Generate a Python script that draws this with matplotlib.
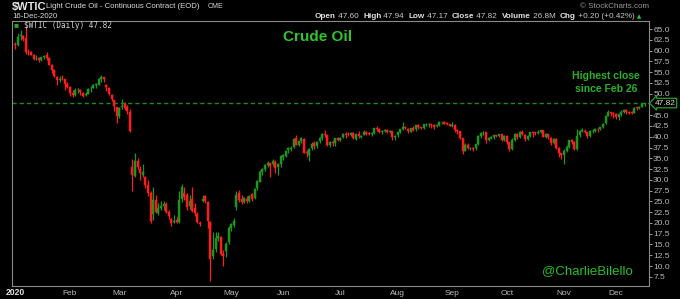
import matplotlib
matplotlib.use("Agg")
import matplotlib.pyplot as plt
import numpy as np

# ---------------- data (daily OHLC, $WTIC 2020) ----------------
opens = [
    # Jan
    61.6, 61.2, 63.7, 63.3, 62.8, 59.7, 59.6, 59.0, 58.2, 58.2, 57.8, 58.6, 58.9, 58.3, 56.7, 55.5, 53.8, 53.1, 53.5, 53.3, 52.2,
    # Feb
    51.6, 50.1, 49.7, 50.8, 50.9, 50.2, 49.6, 50.0, 51.2, 51.4, 52.1, 52.1, 53.3, 53.8, 52.1, 51.4, 49.8, 48.5, 46.9,
    # Mar
    44.8, 47.0, 47.6, 46.8, 45.8, 32.9, 31.0, 34.3, 32.5, 31.2, 30.6, 28.8, 27.0, 22.0, 25.4, 22.3, 23.5, 24.0, 24.5, 22.5, 21.0, 20.2,
    # Apr
    20.6, 20.3, 25.6, 27.0, 26.4, 24.0, 25.5, 23.4, 22.0, 20.0, 25.0, 26.3, 24.8, 20.2, 12.4, 14.0, 16.4, 16.8, 12.8, 13.5, 15.5,
    # May
    18.9, 19.6, 23.6, 27.0, 25.6, 24.9, 25.6, 25.1, 26.8, 25.8, 28.0, 29.6, 31.9, 32.5, 33.5, 33.8, 33.6, 34.2, 32.9, 33.6,
    # Jun
    35.3, 35.6, 36.9, 37.2, 37.6, 39.8, 38.2, 38.9, 39.4, 36.3, 35.7, 37.3, 38.5, 37.8, 38.9, 39.7, 40.6, 40.3, 38.0, 38.7, 38.5, 39.7,
    # Jul
    39.3, 39.9, 40.5, 40.6, 40.5, 40.9, 39.5, 40.6, 39.9, 40.4, 41.2, 40.8, 40.6, 40.8, 42.0, 41.9, 41.1, 41.3, 41.5, 41.0, 41.3, 39.9,
    # Aug
    40.3, 41.0, 41.8, 42.2, 41.9, 41.2, 42.0, 41.7, 42.7, 42.2, 42.1, 42.9, 42.9, 42.8, 42.8, 42.4, 42.7, 43.4, 43.4, 43.0, 42.9,
    # Sep
    42.6, 42.8, 41.5, 41.3, 39.6, 36.8, 38.1, 37.3, 37.3, 37.3, 38.3, 40.2, 41.0, 41.0, 39.3, 39.8, 39.9, 40.3, 40.2, 40.6, 39.3,
    # Oct
    40.2, 38.7, 37.1, 39.3, 40.7, 40.0, 41.2, 40.5, 39.4, 40.2, 41.0, 40.9, 40.9, 41.0, 41.5, 40.0, 40.6, 39.8, 38.6, 39.5, 37.4, 36.2,
    # Nov
    35.8, 36.8, 37.7, 39.2, 38.8, 37.2, 40.3, 41.4, 41.4, 41.1, 40.2, 41.3, 41.4, 41.8, 41.7, 42.2, 43.1, 44.9, 45.7, 45.5,
    # Dec
    45.3, 44.5, 45.3, 45.7, 46.2, 45.7, 45.6, 45.5, 46.8, 46.6, 47.0, 47.60,
]
highs = [
    62.0, 64.1, 64.7, 63.5, 65.65, 60.3, 59.8, 59.3, 58.9, 58.4, 58.6, 59.0, 59.7, 58.4, 56.9, 55.8, 54.0, 54.0, 54.4, 53.4, 52.6,
    51.7, 50.8, 51.4, 51.3, 51.0, 50.5, 50.3, 51.3, 51.7, 52.2, 52.4, 53.6, 54.3, 53.9, 52.3, 51.6, 50.0, 48.6, 47.0,
    47.0, 48.7, 48.0, 47.3, 46.4, 34.9, 36.2, 35.0, 33.3, 33.6, 31.0, 29.9, 27.3, 28.3, 26.6, 24.7, 25.0, 25.2, 24.8, 22.9, 21.2, 21.8,
    21.4, 27.4, 29.1, 28.4, 27.0, 26.4, 28.4, 24.7, 22.5, 20.4, 26.5, 26.5, 25.0, 20.5, 18.0, 17.9, 17.8, 17.0, 13.7, 15.6, 19.3,
    20.0, 21.2, 27.4, 27.6, 26.4, 26.1, 26.3, 26.6, 27.0, 28.1, 29.9, 32.2, 32.8, 33.6, 34.3, 34.0, 34.8, 34.5, 34.0, 35.7,
    36.0, 37.0, 37.7, 37.9, 39.6, 40.4, 39.1, 40.0, 39.7, 37.0, 37.4, 38.7, 38.9, 39.0, 40.0, 40.9, 41.6, 40.4, 38.9, 39.3, 39.7, 40.0,
    40.0, 40.8, 41.0, 41.1, 41.2, 41.0, 40.7, 41.3, 40.5, 41.5, 41.3, 41.0, 41.0, 42.1, 42.5, 42.0, 41.6, 41.9, 41.8, 41.6, 41.3, 40.5,
    41.2, 41.8, 43.5, 42.4, 42.0, 42.1, 42.4, 42.8, 42.9, 42.3, 42.9, 43.1, 43.2, 42.9, 42.9, 42.9, 43.6, 43.5, 43.6, 43.4, 43.0,
    43.4, 42.9, 41.8, 41.4, 39.7, 38.6, 38.5, 37.7, 37.7, 38.4, 40.3, 41.2, 41.4, 41.1, 39.9, 40.2, 40.4, 40.4, 40.7, 40.6, 40.4,
    40.3, 38.8, 39.6, 40.9, 40.8, 41.4, 41.5, 40.6, 40.4, 41.2, 41.1, 41.1, 41.5, 41.6, 41.6, 40.8, 40.7, 39.9, 39.7, 39.6, 37.6, 36.3,
    37.1, 38.0, 39.3, 39.5, 38.9, 41.9, 41.5, 42.0, 41.8, 41.2, 41.5, 41.8, 42.0, 42.0, 42.3, 43.3, 45.0, 46.2, 45.8, 45.7,
    45.6, 45.4, 46.2, 46.5, 46.5, 45.9, 46.0, 46.9, 47.0, 47.2, 47.7, 47.94,
]
lows = [
    60.4, 61.1, 62.5, 62.3, 59.2, 58.9, 58.9, 57.9, 57.8, 57.4, 57.6, 58.1, 57.7, 56.6, 54.8, 53.9, 52.1, 52.6, 53.1, 50.9, 51.3,
    49.4, 49.3, 49.4, 50.1, 49.8, 49.3, 49.4, 49.9, 50.4, 51.2, 51.4, 52.0, 52.8, 52.7, 50.6, 49.7, 48.4, 46.0, 43.3,
    44.4, 46.5, 46.2, 45.3, 41.1, 27.3, 30.6, 32.5, 30.0, 30.7, 28.0, 26.2, 20.1, 20.7, 22.2, 21.9, 22.9, 23.0, 22.4, 21.0, 19.3, 19.9,
    19.9, 20.1, 24.9, 25.3, 22.9, 23.3, 22.6, 21.6, 19.9, 19.2, 24.8, 24.7, 18.9, 6.5, 11.6, 13.2, 15.7, 12.5, 9.9, 12.2, 15.2,
    18.2, 19.1, 23.0, 24.8, 24.4, 24.7, 24.6, 24.9, 25.0, 25.5, 27.6, 29.5, 31.2, 32.0, 32.9, 30.7, 33.1, 31.6, 31.1, 32.9,
    34.5, 35.4, 36.2, 36.6, 37.3, 38.1, 37.9, 38.6, 36.2, 35.3, 34.4, 37.0, 37.2, 37.5, 38.6, 39.2, 39.9, 37.9, 37.6, 37.9, 37.9, 39.0,
    38.9, 39.6, 39.8, 40.1, 40.2, 39.4, 39.3, 39.8, 39.8, 40.3, 40.3, 40.3, 40.2, 40.7, 41.3, 40.9, 40.7, 41.1, 40.9, 40.9, 39.2, 39.3,
    40.0, 40.8, 41.6, 41.7, 40.8, 41.1, 41.4, 41.4, 41.9, 41.7, 41.8, 42.5, 42.3, 42.1, 41.9, 42.2, 42.6, 43.0, 42.9, 42.8, 42.4,
    42.2, 41.1, 40.6, 39.4, 36.1, 36.6, 37.1, 36.9, 36.8, 36.9, 38.1, 39.8, 40.5, 38.6, 39.0, 39.4, 39.4, 39.9, 40.0, 38.9, 39.0,
    38.4, 36.6, 36.9, 39.0, 39.5, 39.8, 40.4, 39.1, 39.3, 40.0, 40.0, 40.5, 40.6, 40.9, 39.9, 39.6, 39.5, 38.0, 38.3, 37.1, 35.2, 34.9,
    33.6, 36.5, 37.4, 38.3, 36.9, 37.0, 39.9, 41.1, 40.9, 39.8, 39.9, 40.9, 41.2, 41.2, 41.5, 42.1, 43.0, 44.8, 44.9, 44.4,
    44.2, 43.9, 44.8, 45.5, 45.3, 45.2, 45.3, 45.4, 46.2, 46.5, 46.9, 47.17,
]
closes = [
    61.18, 63.05, 63.27, 62.70, 59.61, 59.56, 59.04, 58.08, 58.23, 57.81, 58.52, 58.54, 58.34, 56.74, 55.59, 54.19, 53.14, 53.48, 53.33, 52.14, 51.56,
    50.11, 49.61, 50.75, 50.95, 50.32, 49.57, 49.94, 51.17, 51.42, 52.05, 52.05, 53.29, 53.78, 53.38, 51.43, 49.90, 48.73, 47.09, 44.76,
    46.75, 47.18, 46.78, 45.90, 41.28, 31.13, 34.36, 32.98, 31.50, 31.73, 28.70, 26.95, 20.37, 25.22, 22.43, 23.36, 24.01, 24.49, 22.60, 21.51, 20.09, 20.48,
    20.31, 25.32, 28.34, 26.08, 23.63, 25.09, 22.76, 22.41, 20.11, 19.87, 25.60, 25.00, 20.40, 11.57, 13.78, 16.50, 16.94, 12.78, 12.34, 15.06, 18.84,
    19.78, 20.39, 26.60, 25.30, 24.80, 25.80, 25.10, 26.30, 25.60, 27.90, 29.70, 31.80, 32.60, 33.50, 33.90, 33.30, 34.40, 32.80, 33.70, 35.50,
    35.70, 36.81, 37.29, 37.41, 39.55, 38.19, 38.94, 39.60, 36.34, 36.26, 37.12, 38.38, 37.96, 38.84, 39.75, 40.73, 40.37, 38.01, 38.72, 38.49, 39.70, 39.27,
    39.82, 40.65, 40.63, 40.62, 40.90, 39.62, 40.55, 40.10, 40.29, 41.20, 40.75, 40.59, 40.81, 41.96, 41.90, 41.07, 41.29, 41.60, 41.04, 41.27, 39.92, 40.27,
    41.01, 41.70, 42.19, 41.95, 41.22, 41.94, 41.61, 42.67, 42.24, 42.01, 42.89, 42.89, 42.93, 42.82, 42.34, 42.62, 43.35, 43.39, 43.04, 42.97, 42.61,
    42.76, 41.51, 41.37, 39.77, 36.76, 38.05, 37.30, 37.33, 37.26, 38.28, 40.16, 40.97, 41.11, 39.31, 39.80, 39.93, 40.31, 40.25, 40.60, 39.29, 40.22,
    38.72, 37.05, 39.22, 40.67, 39.95, 41.19, 40.60, 39.43, 40.20, 41.04, 40.96, 40.88, 41.06, 41.46, 40.03, 40.64, 39.85, 38.56, 39.57, 37.39, 36.17, 35.79,
    36.81, 37.66, 39.15, 38.79, 37.14, 40.29, 41.36, 41.45, 41.12, 40.13, 41.34, 41.43, 41.82, 41.74, 42.15, 43.06, 44.91, 45.71, 45.53, 45.34,
    44.55, 45.28, 45.64, 46.26, 45.76, 45.60, 45.52, 46.78, 46.57, 46.99, 47.62, 47.82,
]
month_labels = ["Feb", "Mar", "Apr", "May", "Jun", "Jul", "Aug", "Sep", "Oct", "Nov", "Dec"]
month_start_idx = [21, 40, 62, 83, 103, 125, 147, 168, 189, 211, 231]
y_ticks = [7.5, 10.0, 12.5, 15.0, 17.5, 20.0, 22.5, 25.0, 27.5, 30.0, 32.5, 35.0, 37.5,
           40.0, 42.5, 45.0, 50.0, 52.5, 55.0, 57.5, 60.0, 62.5, 65.0]
last_close = 47.82

# ---------------- figure ----------------
W, H = 680, 299
fig = plt.figure(figsize=(W / 100, H / 100), dpi=100, facecolor="black")
ax = fig.add_axes([12 / W, 1 - 286 / H, (649 - 12) / W, (286 - 21) / H], facecolor="black")

FONT = ["Liberation Sans", "DejaVu Sans"]
GREEN_C = "#1c961c"
RED_C = "#ff1c1c"
GRAY = "#b8b8b8"

o = np.array(opens); h = np.array(highs); l = np.array(lows); c = np.array(closes)
n = len(c)
x = np.arange(n)
prev = np.concatenate([[o[0]], c[:-1]])
cols = [GREEN_C if c[i] >= prev[i] else RED_C for i in range(n)]

ax.vlines(x, l, h, colors=cols, linewidth=0.9, zorder=2)
bottoms = np.minimum(o, c)
heights = np.maximum(np.abs(c - o), 0.15)
ax.bar(x, heights, bottom=bottoms, width=0.8, color=cols, edgecolor=cols, linewidth=0.3, zorder=3)

ax.axhline(last_close, color="#1d8a1d", linestyle=(0, (3, 2.2)), linewidth=1.0, zorder=1)

ax.set_xlim(-1.3, 243.7)
ax.set_ylim(5.37, 66.86)

for s in ax.spines.values():
    s.set_color("#8a8a8a")
    s.set_linewidth(0.8)
ax.spines["bottom"].set_linestyle((0, (1, 1)))

ax.yaxis.tick_right()
ax.set_yticks(y_ticks)
ax.set_yticklabels([f"{v:.1f}" for v in y_ticks])
ax.tick_params(axis="y", colors=GRAY, labelsize=6, length=2, width=0.6, pad=1)
for t in ax.get_yticklabels():
    t.set_fontfamily(FONT)
ax.set_xticks(month_start_idx)
ax.set_xticklabels(month_labels)
ax.tick_params(axis="x", colors=GRAY, labelsize=6, length=0, pad=3)
for t in ax.get_xticklabels():
    t.set_fontfamily(FONT)

# "2020" year label
fig.text(15 / W, 1 - 292.5 / H, "2020", ha="center", va="center",
         color="#e0e0e0", fontsize=6.2, fontweight="bold", family=FONT)

# price box
ax.annotate(f"{last_close:.2f}", xy=(1.0, last_close), xycoords=("axes fraction", "data"),
            xytext=(4, 0), textcoords="offset points", ha="left", va="center",
            fontsize=6, color="#d8d8d8", family=FONT,
            bbox=dict(boxstyle="larrow,pad=0.15", fc="black", ec="#2aa02a", lw=0.9))

# in-chart texts
ax.text(0.48, 0.94, "Crude Oil", transform=ax.transAxes, ha="center", va="center",
        color="#2ec42e", fontsize=11, fontweight="bold", family=FONT)
ax.text(0.933, 0.794, "Highest close", transform=ax.transAxes, ha="center", va="center",
        color="#26b326", fontsize=7.5, fontweight="bold", family=FONT)
ax.text(0.933, 0.745, "since Feb 26", transform=ax.transAxes, ha="center", va="center",
        color="#26b326", fontsize=7.5, fontweight="bold", family=FONT)
ax.text(0.904, 0.057, "@CharlieBilello", transform=ax.transAxes, ha="center", va="center",
        color="#26c026", fontsize=9.5, family=FONT)

# legend-like label inside
fig.text(14 / W, 1 - 26 / H, "\u25a0", color="#2aa02a", fontsize=6, va="center", ha="left", family=FONT)
fig.text(24 / W, 1 - 26 / H, "$WTIC (Daily) 47.82", color="#d0d0d0", fontsize=5.6,
         va="center", ha="left", family=["DejaVu Sans Mono", "DejaVu Sans"])

# header
fig.text(12 / W, 1 - 7 / H, "$WTIC", color="#e6e6e6", fontsize=8, fontweight="bold", va="center", ha="left", family=FONT)
fig.text(46 / W, 1 - 7 / H, "Light Crude Oil - Continuous Contract (EOD)", color="#d8d8d8", fontsize=5.6,
         va="center", ha="left", family=FONT)
fig.text(208 / W, 1 - 7 / H, "CME", color="#d8d8d8", fontsize=5, va="center", ha="left", family=FONT)
fig.text(12 / W, 1 - 16.5 / H, "16-Dec-2020", color="#d8d8d8", fontsize=5.7, va="center", ha="left", family=FONT)
fig.text(649 / W, 1 - 7 / H, "\u00a9 StockCharts.com", color="#9a9a9a", fontsize=5.8, va="center", ha="right", family=FONT)

# OHLC header row, drawn sequentially
pieces = [("Open", True), (" 47.60  ", False), ("High", True), (" 47.94  ", False),
          ("Low", True), (" 47.17  ", False), ("Close", True), (" 47.82  ", False),
          ("Volume", True), (" 26.8M  ", False), ("Chg", True), (" +0.20 (+0.42%) ", False)]
renderer = fig.canvas.get_renderer()
xpos = 315.0
for txt, bold in pieces:
    t = fig.text(xpos / W, 1 - 17 / H, txt, color="#e0e0e0" if bold else "#c8c8c8", fontsize=5.9,
                 fontweight="bold" if bold else "normal", va="center", ha="left", family=FONT)
    bb = t.get_window_extent(renderer=renderer)
    xpos += bb.width
fig.text(xpos / W, 1 - 16.5 / H, "\u25b2", color="#2ec42e", fontsize=4, va="center", ha="left",
         family=["DejaVu Sans"])

fig.savefig("out.png", dpi=100, facecolor="black")
